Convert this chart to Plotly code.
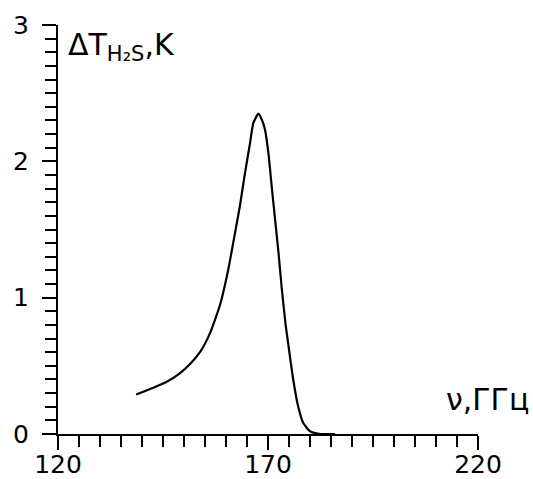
import plotly.graph_objects as go

# H2S line brightness temperature increment vs frequency
freq_ghz = [138.6, 142.7, 146.0, 149.0, 151.5, 153.8, 156.2, 158.6, 160.5, 161.7,
            163.3, 164.5, 165.7, 166.5, 167.7, 168.6, 169.3, 170.1, 170.9, 171.7,
            172.5, 173.3, 174.2, 174.8, 176.0, 177.2, 178.4, 180.0, 182.4, 186.0]
delta_t_k = [0.29, 0.34, 0.385, 0.445, 0.515, 0.60, 0.74, 0.95, 1.20, 1.40,
             1.67, 1.91, 2.13, 2.28, 2.35, 2.30, 2.23, 2.06, 1.81, 1.57,
             1.33, 1.06, 0.80, 0.665, 0.40, 0.20, 0.08, 0.02, 0.0, 0.0]

x_ticks = [120, 170, 220]
y_ticks = [0, 1, 2, 3]

FONT = "DejaVu Sans"

fig = go.Figure()
fig.add_trace(go.Scatter(
    x=freq_ghz, y=delta_t_k, mode="lines",
    line=dict(color="black", width=2.2, shape="spline", smoothing=0.5),
    showlegend=False, hoverinfo="skip",
))

axis_common = dict(
    showline=True, linecolor="black", linewidth=2,
    ticks="outside", ticklen=14, tickwidth=2, tickcolor="black",
    showgrid=False, zeroline=False, automargin=False,
    tickfont=dict(family=FONT, size=25),
)

fig.update_layout(
    width=533, height=479,
    margin=dict(l=58, r=55, t=25, b=45),
    paper_bgcolor="white", plot_bgcolor="white",
    font=dict(family=FONT, color="black", size=25),
    xaxis=dict(
        range=[120, 220], tickvals=x_ticks, ticktext=[str(v) for v in x_ticks],
        minor=dict(dtick=5, tick0=120, ticks="outside", ticklen=11,
                   tickwidth=2, tickcolor="black"),
        ticklabelstandoff=-7,
        **axis_common,
    ),
    yaxis=dict(
        range=[0, 3], tickvals=y_ticks, ticktext=[str(v) for v in y_ticks],
        minor=dict(dtick=0.1, tick0=0, ticks="outside", ticklen=11,
                   tickwidth=2, tickcolor="black"),
        ticklabelstandoff=8,
        **axis_common,
    ),
    annotations=[
        dict(text="ΔT<sub>H₂S</sub>,K", xref="paper", yref="paper",
             x=0.02, y=1.0, xanchor="left", yanchor="top", showarrow=False,
             font=dict(family=FONT, size=30)),
        dict(text="ν,ГГц", xref="paper", yref="paper",
             x=1.125, y=0.085, xanchor="right", yanchor="middle", showarrow=False,
             font=dict(family=FONT, size=30)),
    ],
)

fig.write_html("out.html")
